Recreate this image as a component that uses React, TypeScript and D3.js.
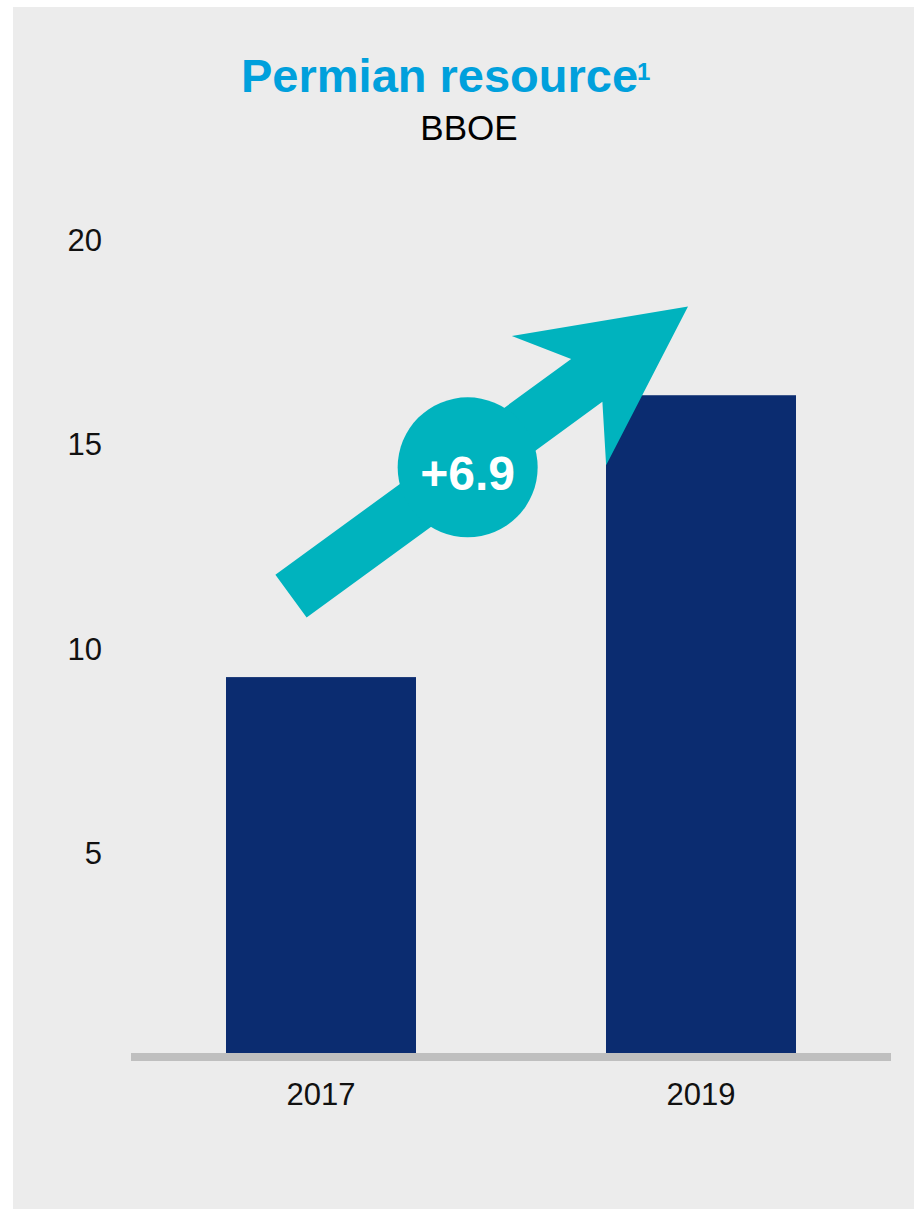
import React from "react";
import * as d3 from "d3";

const categories = ["2017", "2019"];
const values = [9.3, 16.2];
const yTicks = [5, 10, 15, 20];
const changeLabel = "+6.9";
const titleText = "Permian resource";
const titleSup = "1";
const unitText = "BBOE";

const W = 914;
const H = 1209;
const FONT = "Liberation Sans, Arial, Helvetica, sans-serif";

export default function App() {
  const x = d3.scaleBand<string>().domain(categories).range([131, 891]).paddingInner(0.5).paddingOuter(0.25);
  const y = d3.scaleLinear().domain([0, 20]).range([1057, 240]);

  // arrow annotation anchored in chart coordinates
  const tail: [number, number] = [x("2017")! + x.bandwidth() / 2 - 30, y(11.28)];
  const tip: [number, number] = [x("2019")! + x.bandwidth() / 2 - 13, y(18.37)];
  const dx = tip[0] - tail[0];
  const dy = tip[1] - tail[1];
  const len = Math.hypot(dx, dy);
  const ux = dx / len, uy = dy / len;
  const nx = uy, ny = -ux; // perpendicular (upper-left side)
  const shaftHalf = 26.5;
  const shaftLen = len * 0.745;
  const barbU = len * 0.675;
  const barbHalf = 80;
  const local: [number, number][] = [
    [0, shaftHalf],
    [shaftLen, shaftHalf],
    [barbU, barbHalf],
    [len, 0],
    [barbU, -barbHalf],
    [shaftLen, -shaftHalf],
    [0, -shaftHalf],
  ];
  const pts = local.map(([u, v]) => [tail[0] + ux * u + nx * v, tail[1] + uy * u + ny * v]);
  const arrowPath = d3.line()(pts as [number, number][]) + "Z";
  const cU = len * 0.445;
  const cx = tail[0] + ux * cU;
  const cy = tail[1] + uy * cU;

  return (
    <svg width={W} height={H} style={{ position: "absolute", left: 0, top: 0 }} fontFamily={FONT}>
      <rect x={13} y={7} width={W - 13} height={H - 7} fill="#ececec" />
      <text x={241} y={92} fontSize={47} fontWeight="bold" fill="#00a0dc">
        {titleText}
      </text>
      <text x={637} y={80} fontSize={24} fontWeight="bold" fill="#00a0dc">
        {titleSup}
      </text>
      <text x={469} y={140} fontSize={35} textAnchor="middle" fill="#000">
        {unitText}
      </text>

      {yTicks.map((t) => (
        <text key={t} x={102} y={y(t)} dy="0.36em" fontSize={31} textAnchor="end" fill="#111">
          {t}
        </text>
      ))}

      {categories.map((c, i) => (
        <rect key={c} x={x(c)!} y={y(values[i])} width={x.bandwidth()} height={y(0) - y(values[i])} fill="#0b2c70" />
      ))}

      <line x1={131} x2={891} y1={y(0)} y2={y(0)} stroke="#bfbfbf" strokeWidth={8} />

      {categories.map((c) => (
        <text key={c} x={x(c)! + x.bandwidth() / 2} y={1105} fontSize={31} textAnchor="middle" fill="#111">
          {c}
        </text>
      ))}

      <path d={arrowPath} fill="#00b3be" />
      <circle cx={cx} cy={cy} r={70} fill="#00b3be" />
      <text x={cx} y={490} fontSize={48} fontWeight="bold" textAnchor="middle" fill="#fff">
        {changeLabel}
      </text>
    </svg>
  );
}
